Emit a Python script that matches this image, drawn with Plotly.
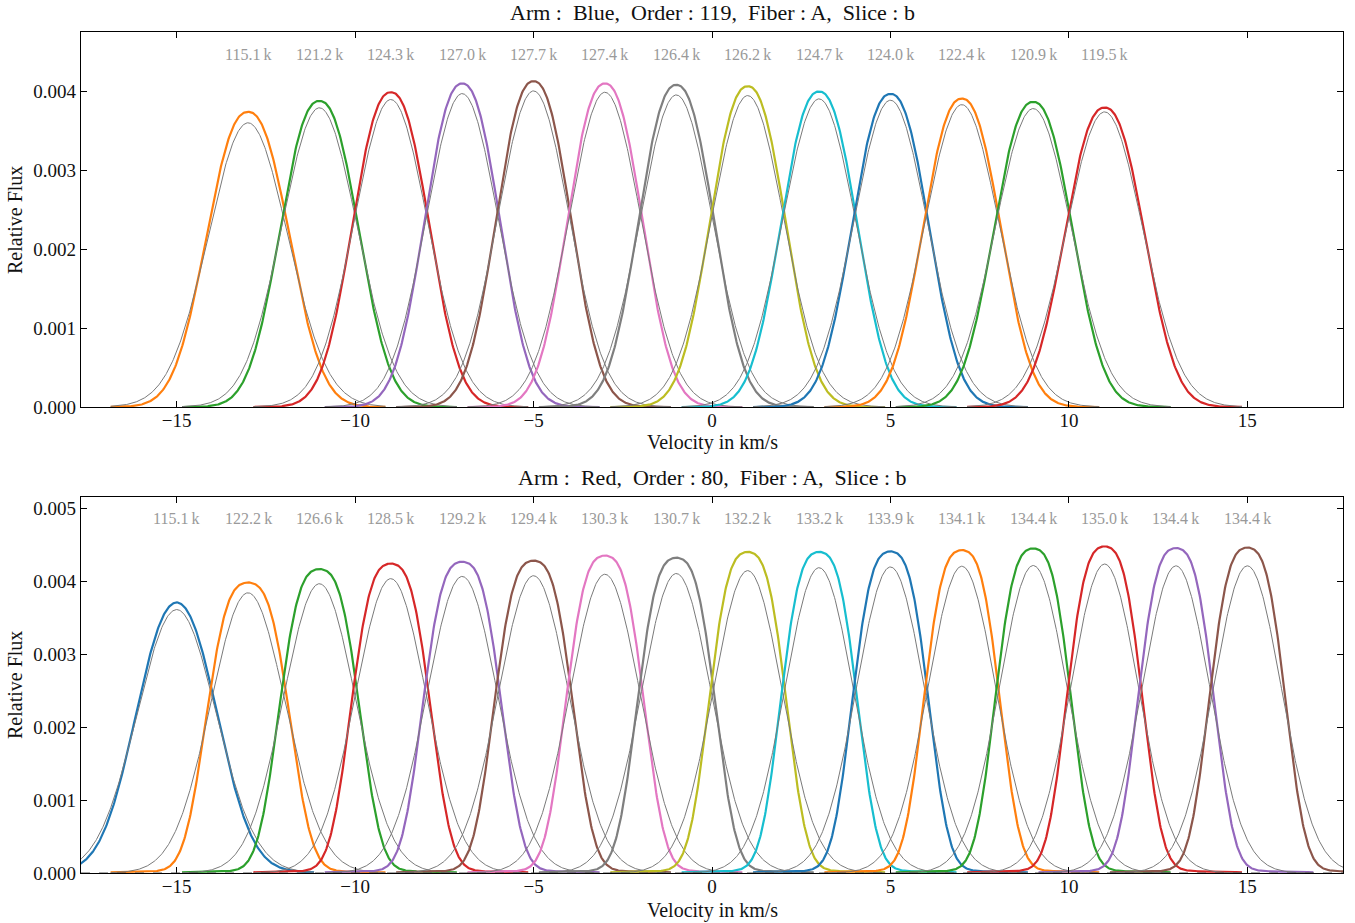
import numpy as np
import plotly.graph_objects as go

C_KMS = 299792.458

# ---------------- data ----------------
blue_centers = [-13, -11, -9, -7, -5, -3, -1, 1, 3, 5, 7, 9, 11]
blue_peak = [3.738e-3, 3.877e-3, 3.987e-3, 4.097e-3, 4.127e-3, 4.097e-3, 4.080e-3,
             4.063e-3, 3.996e-3, 3.966e-3, 3.907e-3, 3.865e-3, 3.793e-3]
blue_fit_peak = [3.600e-3, 3.790e-3, 3.895e-3, 3.970e-3, 4.004e-3, 3.987e-3, 3.953e-3,
                 3.945e-3, 3.903e-3, 3.886e-3, 3.830e-3, 3.780e-3, 3.738e-3]
blue_R = [115.1, 121.2, 124.3, 127.0, 127.7, 127.4, 126.4, 126.2, 124.7, 124.0, 122.4, 120.9, 119.5]
blue_shape = [2.3] * 13

red_centers = [-15, -13, -11, -9, -7, -5, -3, -1, 1, 3, 5, 7, 9, 11, 13, 15]
red_peak = [3.715e-3, 3.990e-3, 4.175e-3, 4.250e-3, 4.275e-3, 4.290e-3, 4.360e-3, 4.330e-3,
            4.410e-3, 4.410e-3, 4.417e-3, 4.435e-3, 4.458e-3, 4.485e-3, 4.463e-3, 4.470e-3]
red_fit_peak = [3.615e-3, 3.845e-3, 3.970e-3, 4.040e-3, 4.070e-3, 4.080e-3, 4.100e-3, 4.110e-3,
                4.150e-3, 4.190e-3, 4.200e-3, 4.210e-3, 4.220e-3, 4.240e-3, 4.215e-3, 4.215e-3]
red_R = [115.1, 122.2, 126.6, 128.5, 129.2, 129.4, 130.3, 130.7, 132.2, 133.2, 133.9, 134.1,
         134.4, 135.0, 134.4, 134.4]
red_shape = [2.2] + [3.0] * 15

blue_color_start = 1
red_color_start = 0
half_span = 3.85

TAB10 = ['#1f77b4', '#ff7f0e', '#2ca02c', '#d62728', '#9467bd',
         '#8c564b', '#e377c2', '#7f7f7f', '#bcbd22', '#17becf']

FONT = "Liberation Serif"


def fit_sigma(R):
    fwhm = C_KMS / (R * 1000.0)
    return fwhm / (2.0 * np.sqrt(2.0 * np.log(2.0)))


def measured(x, c, A, sig, p, wing):
    d = np.abs(x - c)
    # width chosen so that the FWHM matches the fitted one
    s = sig * np.sqrt(2 * np.log(2)) / (2 * np.log(2)) ** (1.0 / p) * 0.99
    core = np.exp(-0.5 * (d / s) ** p)
    return A * ((1 - wing) * core + wing * np.exp(-d / 1.5))


fig = go.Figure()


def add_panel(centers, peaks, fits, Rs, shapes, cstart, xa, ya, wing):
    for i, c in enumerate(centers):
        x = np.linspace(c - half_span, c + half_span, 400)
        sig = fit_sigma(Rs[i])
        y_meas = measured(x, c, peaks[i], sig, shapes[i], wing)
        y_fit = fits[i] * np.exp(-0.5 * ((x - c) / sig) ** 2)
        fig.add_trace(go.Scatter(x=x, y=y_meas, mode='lines', xaxis=xa, yaxis=ya,
                                 line=dict(color=TAB10[(cstart + i) % 10], width=2.2),
                                 showlegend=False, hoverinfo='skip'))
        fig.add_trace(go.Scatter(x=x, y=y_fit, mode='lines', xaxis=xa, yaxis=ya,
                                 line=dict(color='#7a7a7a', width=1),
                                 showlegend=False, hoverinfo='skip'))


add_panel(blue_centers, blue_peak, blue_fit_peak, blue_R, blue_shape, blue_color_start, 'x', 'y', 0.0)
add_panel(red_centers, red_peak, red_fit_peak, red_R, red_shape, red_color_start, 'x2', 'y2', 0.03)

label_font = dict(family=FONT, size=16, color='#9a9a9a')
annotations = []
for c, R in zip(blue_centers, blue_R):
    annotations.append(dict(x=c, y=0.00447, xref='x', yref='y', text=f"{R:.1f}\u2009k",
                            xanchor='center', yanchor='middle',
                            showarrow=False, font=label_font))
for c, R in zip(red_centers, red_R):
    annotations.append(dict(x=c, y=0.004866, xref='x2', yref='y2', text=f"{R:.1f}\u2009k",
                            xanchor='center', yanchor='middle',
                            showarrow=False, font=label_font))

H_TOT = 841.0
def py(pix):
    return (873 - pix) / H_TOT

title_font = dict(family=FONT, size=22, color='#111111')
lab_font = dict(family=FONT, size=20, color='#111111')
common = dict(xref='paper', yref='paper', showarrow=False, xanchor='center', yanchor='middle')
annotations += [
    dict(x=0.5, y=py(13), text="Arm :  Blue,  Order : 119,  Fiber : A,  Slice : b",
         font=title_font, **common),
    dict(x=0.5, y=py(478), text="Arm :  Red,  Order : 80,  Fiber : A,  Slice : b",
         font=title_font, **common),
    dict(x=0.5, y=py(443), text="Velocity in km/s", font=lab_font, **common),
    dict(x=0.5, y=py(910), text="Velocity in km/s", font=lab_font, **common),
    dict(x=(15 - 81) / 1262.0, y=py(220), text="Relative Flux", textangle=-90,
         font=lab_font, **common),
    dict(x=(15 - 81) / 1262.0, y=py(685), text="Relative Flux", textangle=-90,
         font=lab_font, **common),
]

axis_common = dict(showline=True, linecolor='black', linewidth=1.2, mirror='ticks',
                   ticks='inside', ticklen=6, tickwidth=1.2, tickcolor='black',
                   showgrid=False, zeroline=False,
                   tickfont=dict(family=FONT, size=19, color='#111111'))

fig.update_layout(
    width=1355, height=923,
    margin=dict(l=81, r=12, t=32, b=50),
    paper_bgcolor='white', plot_bgcolor='white',
    annotations=annotations,
    xaxis=dict(domain=[0, 1], anchor='y', range=[-17.68, 17.68], dtick=5,
               ticklabelstandoff=-4, **axis_common),
    yaxis=dict(domain=[py(407), 1.0], anchor='x', range=[0, 0.00475], dtick=0.001,
               tickformat='.3f', **axis_common),
    xaxis2=dict(domain=[0, 1], anchor='y2', range=[-17.68, 17.68], dtick=5,
                ticklabelstandoff=-4, **axis_common),
    yaxis2=dict(domain=[0, py(497)], anchor='x2', range=[0, 0.00516], dtick=0.001,
                tickformat='.3f', **axis_common),
    shapes=[dict(type='line', xref='x2 domain', yref='y2', x0=0, x1=1, y0=0, y1=0,
                 line=dict(color='#555555', width=1.2, dash='dash'))],
)

fig.write_html("out.html")
